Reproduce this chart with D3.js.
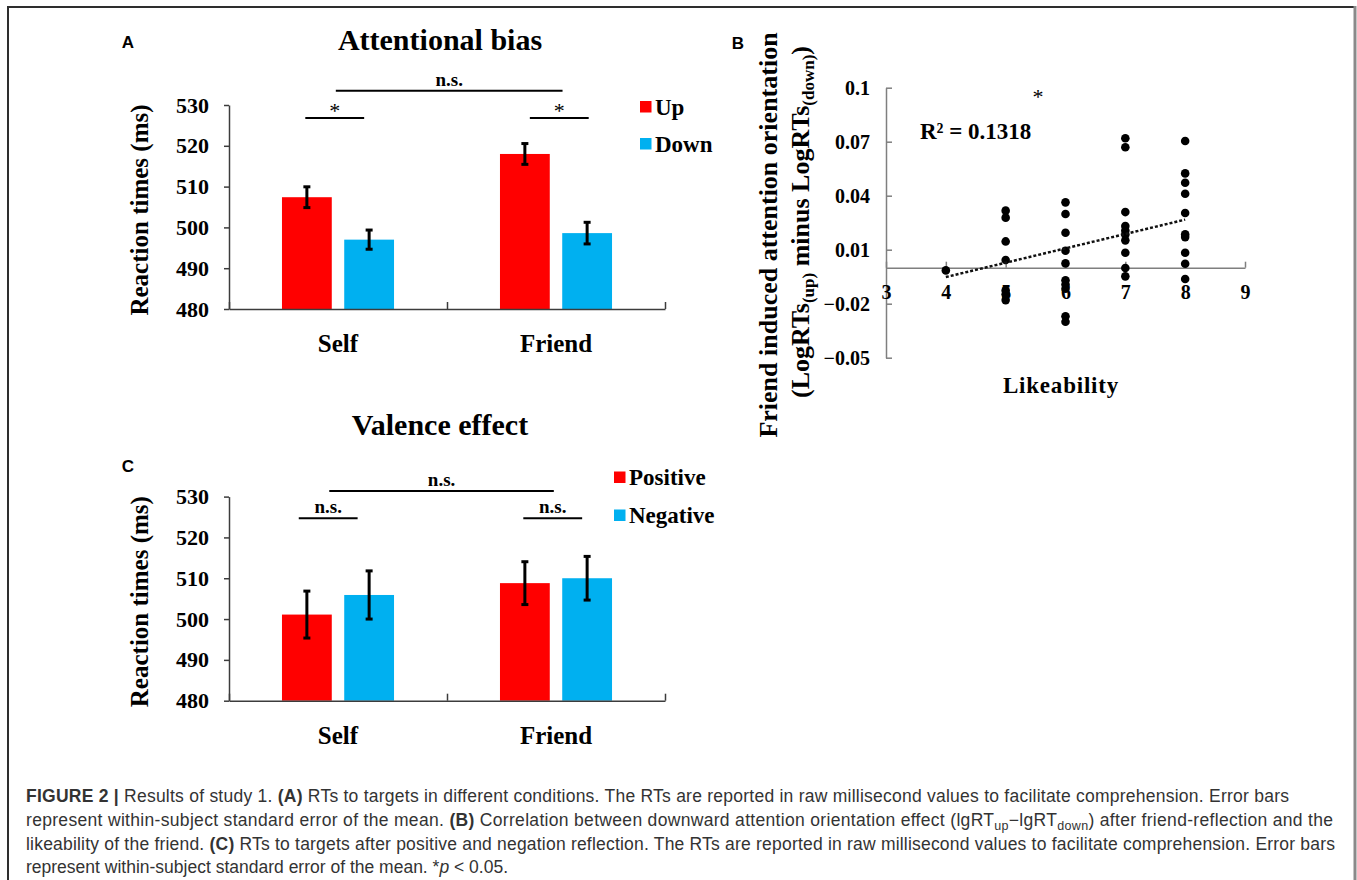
<!DOCTYPE html>
<html>
<head>
<meta charset="utf-8">
<script src="https://cdn.jsdelivr.net/npm/d3@7"></script>
<style>
body{margin:0;background:#fff;}
svg{display:block;}
</style>
</head>
<body>
<svg id="fig" width="1357" height="880"></svg>
<script>
// ---- data ----
let groups = ["Self", "Friend"];
let rtTicks = [480, 490, 500, 510, 520, 530];

// panel A : attentional bias
let biasSeries = ["Up", "Down"];
let biasUp = [507.4, 518.0];
let biasDown = [497.0, 498.6];
let biasUpErr = [2.55, 2.55];
let biasDownErr = [2.35, 2.65];
// brackets: x in group units (0..2), y in ms
let biasBrackets = [
    {x0: 0.49, x1: 1.53, y: 533.5, label: "n.s."},
    {x0: 0.35, x1: 0.62, y: 526.8, label: "*"},
    {x0: 1.38, x1: 1.65, y: 526.8, label: "*"}
];

// panel C : valence effect
let valenceSeries = ["Positive", "Negative"];
let valencePos = [501.1, 508.8];
let valenceNeg = [505.9, 510.0];
let valencePosErr = [5.75, 5.25];
let valenceNegErr = [5.9, 5.35];
let valenceBrackets = [
    {x0: 0.46, x1: 1.49, y: 531.4, label: "n.s."},
    {x0: 0.32, x1: 0.59, y: 524.7, label: "n.s."},
    {x0: 1.35, x1: 1.62, y: 524.7, label: "n.s."}
];

// panel B : likeability vs attention orientation
let likeTicksX = [3, 4, 5, 6, 7, 8, 9];
let likeTicksY = [-0.05, -0.02, 0.01, 0.04, 0.07, 0.1];
let likeX = [4,
    5, 5, 5, 5, 5, 5, 5,
    6, 6, 6, 6, 6, 6, 6, 6, 6, 6,
    7, 7, 7, 7, 7, 7, 7, 7, 7, 7,
    8, 8, 8, 8, 8, 8, 8, 8, 8, 8];
let likeY = [-0.0015,
    0.0317, 0.0278, 0.0146, 0.0043, -0.0126, -0.0148, -0.018,
    0.0363, 0.0298, 0.0194, 0.0094, 0.0024, -0.007, -0.0093, -0.0117, -0.027, -0.030,
    0.0719, 0.0669, 0.0309, 0.0231, 0.0207, 0.0185, 0.0152, 0.0083, -0.0002, -0.0048,
    0.0704, 0.0524, 0.0472, 0.0411, 0.0304, 0.0185, 0.017, 0.0083, 0.0022, -0.0063];
let trendX = [4, 8];
let trendY = [-0.0052, 0.0267];
let rSquared = "0.1318";

let red = "#ff0000", blue = "#00b0f0";
let serif = "'Liberation Serif','Times New Roman',serif";
let sans = "'Liberation Sans',Arial,sans-serif";

let svg = d3.select("#fig");

// outer frame
svg.append("path").attr("d", "M8,880V7H1355").attr("fill", "none")
    .attr("stroke", "#2e2e2e").attr("stroke-width", 2);
svg.append("line").attr("x1", 1355).attr("x2", 1355).attr("y1", 6).attr("y2", 880)
    .attr("stroke", "#8a8a8a").attr("stroke-width", 3);

showBars({
    series: biasSeries, values: [biasUp, biasDown], errors: [biasUpErr, biasDownErr],
    brackets: biasBrackets, title: "Attentional bias", letter: "A"
}, {top: 105, bottom: 309, titleY: 50, letterY: 48, legX: 640, legY: 107, legStep: 37});

showBars({
    series: valenceSeries, values: [valencePos, valenceNeg], errors: [valencePosErr, valenceNegErr],
    brackets: valenceBrackets, title: "Valence effect", letter: "C"
}, {top: 496.6, bottom: 700.7, titleY: 435, letterY: 472, legX: 614, legY: 477.5, legStep: 38});

showScatter();
showCaption();

function styleAxis(sel, color, size) {
    sel.attr("font-family", null).attr("font-size", null);
    sel.selectAll("path,line").attr("stroke", color).attr("stroke-width", 1.5);
    sel.selectAll("text").attr("font-family", serif).attr("font-size", size)
        .attr("font-weight", "bold").attr("fill", "#000");
}

function showBars(panel, layout) {
    let g = svg.append("g");
    let y = d3.scaleLinear().domain([480, 530]).range([layout.bottom, layout.top]);
    let xu = d3.scaleLinear().domain([0, 2]).range([229, 665]);
    let inner = d3.scaleBand().domain(panel.series).range([0.243, 0.757]).paddingInner(0.2);
    let barW = xu(inner.bandwidth()) - xu(0);

    let rows = [];
    panel.series.forEach((s, si) => {
        groups.forEach((grp, gi) => {
            rows.push({s: s, gi: gi, v: panel.values[si][gi], e: panel.errors[si][gi], color: si === 0 ? red : blue});
        });
    });

    g.selectAll("rect.bar").data(rows).enter().append("rect").attr("class", "bar")
        .attr("x", d => xu(d.gi + inner(d.s))).attr("width", barW)
        .attr("y", d => y(d.v)).attr("height", d => y(480) - y(d.v))
        .attr("fill", d => d.color);

    // error bars
    let err = g.selectAll("g.err").data(rows).enter().append("g").attr("class", "err")
        .attr("transform", d => "translate(" + (xu(d.gi + inner(d.s)) + barW / 2) + ",0)");
    err.append("line").attr("y1", d => y(d.v - d.e)).attr("y2", d => y(d.v + d.e))
        .attr("stroke", "#000").attr("stroke-width", 3);
    err.append("line").attr("x1", -3.5).attr("x2", 3.5).attr("y1", d => y(d.v + d.e)).attr("y2", d => y(d.v + d.e))
        .attr("stroke", "#000").attr("stroke-width", 3);
    err.append("line").attr("x1", -3.5).attr("x2", 3.5).attr("y1", d => y(d.v - d.e)).attr("y2", d => y(d.v - d.e))
        .attr("stroke", "#000").attr("stroke-width", 3);

    // axes
    g.append("g").attr("transform", "translate(0," + y(480) + ")")
        .call(d3.axisBottom(xu).tickValues([0, 1, 2]).tickSizeInner(-7).tickSizeOuter(0).tickFormat(""))
        .call(sel => styleAxis(sel, "#3c3c3c", 22));
    g.append("g").attr("transform", "translate(229,0)")
        .call(d3.axisLeft(y).tickValues(rtTicks).tickSizeInner(5).tickSizeOuter(0).tickPadding(15))
        .call(sel => styleAxis(sel, "#3c3c3c", 22));

    g.selectAll("text.grp").data(groups).enter().append("text").attr("class", "grp")
        .attr("x", (d, i) => xu(i + 0.5)).attr("y", layout.bottom + 43)
        .attr("text-anchor", "middle").attr("font-family", serif).attr("font-weight", "bold")
        .attr("font-size", 25).text(d => d);

    g.append("text").attr("transform", "translate(139," + ((layout.top + layout.bottom) / 2 + 3) + ") rotate(-90)")
        .attr("dy", "0.35em").attr("text-anchor", "middle").attr("font-family", serif)
        .attr("font-weight", "bold").attr("font-size", 25).text("Reaction times (ms)");

    g.append("text").attr("x", 440).attr("y", layout.titleY).attr("text-anchor", "middle")
        .attr("font-family", serif).attr("font-weight", "bold").attr("font-size", 30).text(panel.title);
    g.append("text").attr("x", 128).attr("y", layout.letterY).attr("text-anchor", "middle")
        .attr("font-family", sans).attr("font-weight", "bold").attr("font-size", 17).text(panel.letter);

    // significance brackets
    let br = g.selectAll("g.br").data(panel.brackets).enter().append("g").attr("class", "br");
    br.append("line").attr("x1", d => xu(d.x0)).attr("x2", d => xu(d.x1))
        .attr("y1", d => y(d.y)).attr("y2", d => y(d.y)).attr("stroke", "#000").attr("stroke-width", 2);
    br.append("text").attr("x", d => (xu(d.x0) + xu(d.x1)) / 2)
        .attr("y", d => y(d.y) - (d.label === "*" ? 0 : 5))
        .attr("text-anchor", "middle").attr("font-family", serif)
        .attr("font-weight", d => d.label === "*" ? "normal" : "bold")
        .attr("font-size", d => d.label === "*" ? 22 : 19).text(d => d.label);

    // legend
    let leg = g.selectAll("g.leg").data(panel.series).enter().append("g").attr("class", "leg")
        .attr("transform", (d, i) => "translate(" + layout.legX + "," + (layout.legY + i * layout.legStep) + ")");
    leg.append("rect").attr("x", 0).attr("y", -6).attr("width", 11.5).attr("height", 11.5)
        .attr("fill", (d, i) => i === 0 ? red : blue);
    leg.append("text").attr("x", 15).attr("y", 0).attr("dy", "0.33em")
        .attr("font-family", serif).attr("font-weight", "bold").attr("font-size", 23).text(d => d);
}

function showScatter() {
    let g = svg.append("g");
    let x = d3.scaleLinear().domain([3, 9]).range([886, 1245]);
    let y = d3.scaleLinear().domain([-0.05, 0.1]).range([357.7, 87.7]);

    g.append("g").attr("transform", "translate(886,0)")
        .call(d3.axisLeft(y).tickValues(likeTicksY).tickSizeInner(-6).tickSizeOuter(0).tickPadding(16)
            .tickFormat(d3.format(".2~f")))
        .call(sel => styleAxis(sel, "#7f7f7f", 20));
    g.append("g").attr("transform", "translate(0," + y(0) + ")")
        .call(d3.axisBottom(x).tickValues(likeTicksX).tickSizeInner(-6).tickSizeOuter(0).tickPadding(17)
            .tickFormat(d3.format("d")))
        .call(sel => styleAxis(sel, "#7f7f7f", 20));

    let pts = likeX.map((v, i) => ({x: v, y: likeY[i]}));
    g.selectAll("circle").data(pts).enter().append("circle")
        .attr("cx", d => x(d.x)).attr("cy", d => y(d.y)).attr("r", 4.3).attr("fill", "#000");

    let trend = trendX.map((v, i) => [x(v), y(trendY[i])]);
    g.append("path").attr("d", d3.line()(trend)).attr("fill", "none").attr("stroke", "#111")
        .attr("stroke-width", 2.5).attr("stroke-dasharray", "3,2");

    g.append("text").attr("x", 920).attr("y", 139).attr("font-family", serif).attr("font-weight", "bold")
        .attr("font-size", 23).text("R\u00b2 = " + rSquared);
    g.append("text").attr("x", 1038).attr("y", 104).attr("text-anchor", "middle").attr("font-family", serif)
        .attr("font-size", 22).text("*");

    g.append("text").attr("x", 1061).attr("y", 393).attr("text-anchor", "middle").attr("font-family", serif)
        .attr("font-weight", "bold").attr("font-size", 23).attr("letter-spacing", 0.8).text("Likeability");

    g.append("text").attr("transform", "translate(768,235) rotate(-90)").attr("dy", "0.35em")
        .attr("text-anchor", "middle").attr("font-family", serif).attr("font-weight", "bold")
        .attr("font-size", 26).text("Friend induced attention orientation");

    let t2 = g.append("text").attr("transform", "translate(800,222) rotate(-90)").attr("dy", "0.35em")
        .attr("text-anchor", "middle").attr("font-family", serif).attr("font-weight", "bold")
        .attr("font-size", 26);
    t2.append("tspan").text("(LogRTs");
    t2.append("tspan").attr("font-size", 17).attr("dy", 5).text("(up)");
    t2.append("tspan").attr("dy", -5).text(" minus LogRTs");
    t2.append("tspan").attr("font-size", 17).attr("dy", 5).text("(down)");
    t2.append("tspan").attr("dy", -5).text(")");

    g.append("text").attr("x", 738).attr("y", 49).attr("text-anchor", "middle")
        .attr("font-family", sans).attr("font-weight", "bold").attr("font-size", 17).text("B");
}

function showCaption() {
    let base = [802, 826, 849.5, 873];
    let widths = [1263, 1307, 1309, null];
    let lines = [
        [["FIGURE 2 | ", "b"], ["Results of study 1. "], ["(A)", "b"], [" RTs to targets in different conditions. The RTs are reported in raw millisecond values to facilitate comprehension. Error bars"]],
        [["represent within-subject standard error of the mean. "], ["(B)", "b"], [" Correlation between downward attention orientation effect (lgRT"], ["up", "sub"], ["\u2212lgRT"], ["down", "sub"], [") after friend-reflection and the"]],
        [["likeability of the friend. "], ["(C)", "b"], [" RTs to targets after positive and negation reflection. The RTs are reported in raw millisecond values to facilitate comprehension. Error bars"]],
        [["represent within-subject standard error of the mean. *"], ["p", "i"], [" < 0.05."]]
    ];
    lines.forEach((parts, li) => {
        let t = svg.append("text").attr("x", 26).attr("y", base[li]).attr("font-family", sans)
            .attr("font-size", 17.5).attr("fill", "#333");
        if (widths[li]) t.attr("textLength", widths[li]).attr("lengthAdjust", "spacing");
        let shifted = false;
        parts.forEach(p => {
            let sp = t.append("tspan").text(p[0]);
            if (p[1] === "b") sp.attr("font-weight", "bold");
            if (p[1] === "i") sp.attr("font-style", "italic");
            if (p[1] === "sub") {
                sp.attr("font-size", 12.5).attr("dy", 4);
                shifted = true;
            } else if (shifted) {
                sp.attr("dy", -4);
                shifted = false;
            }
        });
    });
}
</script>
</body>
</html>
